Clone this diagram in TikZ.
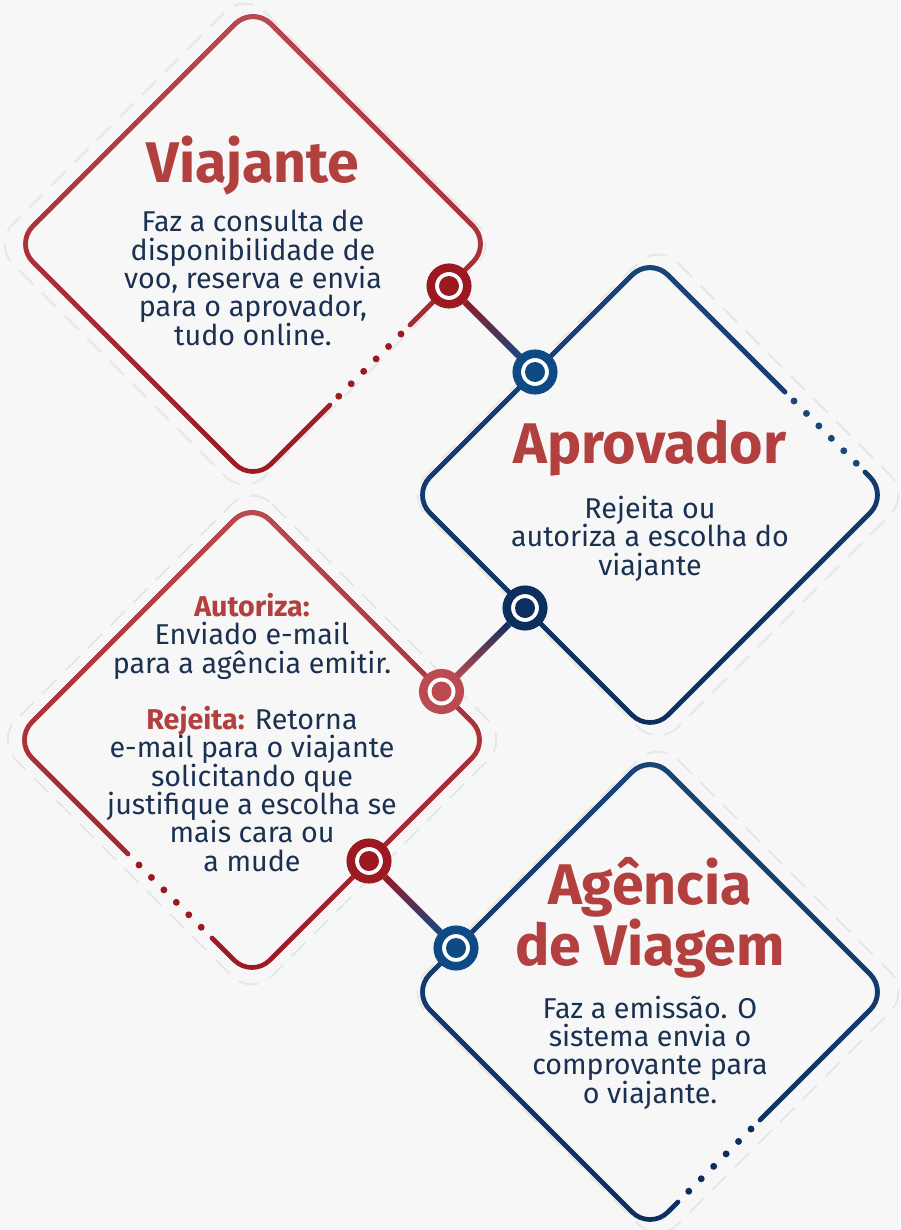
\documentclass[tikz,border=0pt]{standalone}
\usepackage{fontspec}
\setmainfont{Fira Sans}
\usetikzlibrary{fadings}

\definecolor{redlight}{HTML}{BC4A51}
\definecolor{reddark}{HTML}{9C1922}
\definecolor{bluelight}{HTML}{0E4A84}
\definecolor{bluedark}{HTML}{0C2F5E}
\definecolor{bluetop}{HTML}{1A4678}
\definecolor{titlered}{HTML}{B2403F}
\definecolor{textnavy}{HTML}{1B3152}
\definecolor{bg}{HTML}{F7F7F7}
\definecolor{ghostgray}{HTML}{E7E7E7}

\newcommand{\headfont}{\bfseries\fontsize{43}{40.5}\selectfont}
\newcommand{\bodyfont}{\fontsize{21.5}{21.2}\selectfont\lineskiplimit=-50pt\relax}

\tikzfading[name=fadetop, top color=transparent!0, bottom color=transparent!100]
\tikzfading[name=fadebottom, top color=transparent!100, bottom color=transparent!0]

\begin{document}
\begin{tikzpicture}[x=0.75pt, y=-0.75pt,
    rim/.style = {line width=3.5pt, rounded corners=19pt, line cap=round},
    dotgap/.style = {line width=5.2pt, line cap=round, dash pattern=on 0pt off 13.2pt},
    ghost/.style = {ghostgray, line width=1.4pt, dash pattern=on 15pt off 9pt, rounded corners=21pt},
    station/.style = {circle, draw=#1, fill=white, line width=6.4pt, minimum size=27.4pt, inner sep=0pt,
        path picture={\fill[#1] (path picture bounding box.center) circle (7.5pt);}},
    link/.style = {line width=5pt},
    heading/.style = {text=titlered, font=\headfont, align=center, anchor=base},
    body/.style = {text=textnavy, font=\bodyfont, align=center, anchor=base}]
    \useasboundingbox (0,0) rectangle (900,1230);
    \fill[bg] (0,0) rectangle (900,1230);

    % faint dashed outlines behind
    \draw[ghost] (245,-8) -- (497,244) -- (245,496) -- (-7,244) -- cycle;
    \draw[ghost] (658,243) -- (910,495) -- (658,747) -- (406,495) -- cycle;
    \draw[ghost] (252,484) -- (508,740) -- (252,996) -- (-4,740) -- cycle;
    \draw[ghost] (658,740) -- (910,992) -- (658,1244) -- (406,992) -- cycle;

    % diamonds
    \draw[rim, reddark, postaction={draw, redlight, path fading=fadetop}]
        (330,405) -- (253,482) -- (15,244) -- (253,6) -- (491,244) -- (410,325);
    \draw[dotgap, reddark] (401,334) -- (337,398);
    \draw[rim, bluedark, postaction={draw, bluetop, path fading=fadetop}]
        (865,472) -- (888,495) -- (650,733) -- (412,495) -- (650,257) -- (785,392);
    \draw[dotgap, bluetop] (794,401) -- (857,464);
    \draw[rim, reddark, postaction={draw, redlight, path fading=fadetop}]
        (212,938) -- (252,978) -- (490,740) -- (252,502) -- (14,740) -- (128,854);
    \draw[dotgap, reddark] (139,865) -- (203,929);
    \draw[rim, bluedark, postaction={draw, bluetop, path fading=fadetop}]
        (678,1202) -- (650,1230) -- (412,992) -- (650,754) -- (888,992) -- (760,1120);
    \draw[dotgap, bluedark] (751,1129) -- (687,1193);

    % texts (base = last line)
    \node[heading] (tviajante) at (253,183) {Viajante};
    \node[body] (bviajante) at (253,345) {Faz a consulta de\\disponibilidade de\\voo, reserva e envia\\para o aprovador,\\tudo online.};
    \node[heading] (taprovador) at (650,463) {Aprovador};
    \node[body] (baprovador) at (650,575) {Rejeita ou\\autoriza a escolha do\\viajante};
    \node[body] (bdecisao) at (252,871) {{\color{titlered}\bfseries Autoriza:}\\Enviado e-mail\\para a agência emitir.\\[21.2pt]{\color{titlered}\bfseries Rejeita:} Retorna\\e-mail para o viajante\\solicitando que\\justifique a escolha se\\mais cara ou\\a mude};
    \node[heading] (tagencia) at (650,965) {Agência\\de Viagem};
    \node[body] (bagencia) at (650,1103) {Faz a emissão. O\\sistema envia o\\comprovante para\\o viajante.};

    % stations
    \node[station=reddark] (c1) at (449,286) {};
    \node[station=bluelight] (c2) at (535,372) {};
    \node[station=bluedark] (c3) at (525,608) {};
    \node[station=redlight] (c4) at (441.5,691.5) {};
    \node[station=reddark] (c5) at (369,861) {};
    \node[station=bluelight] (c6) at (456,948) {};

    % links
    \draw[link, reddark, postaction={draw, bluelight, path fading=fadebottom}] (c1) -- (c2);
    \draw[link, bluedark, postaction={draw, redlight, path fading=fadebottom}] (c3) -- (c4);
    \draw[link, reddark, postaction={draw, bluelight, path fading=fadebottom}] (c5) -- (c6);
\end{tikzpicture}
\end{document}
